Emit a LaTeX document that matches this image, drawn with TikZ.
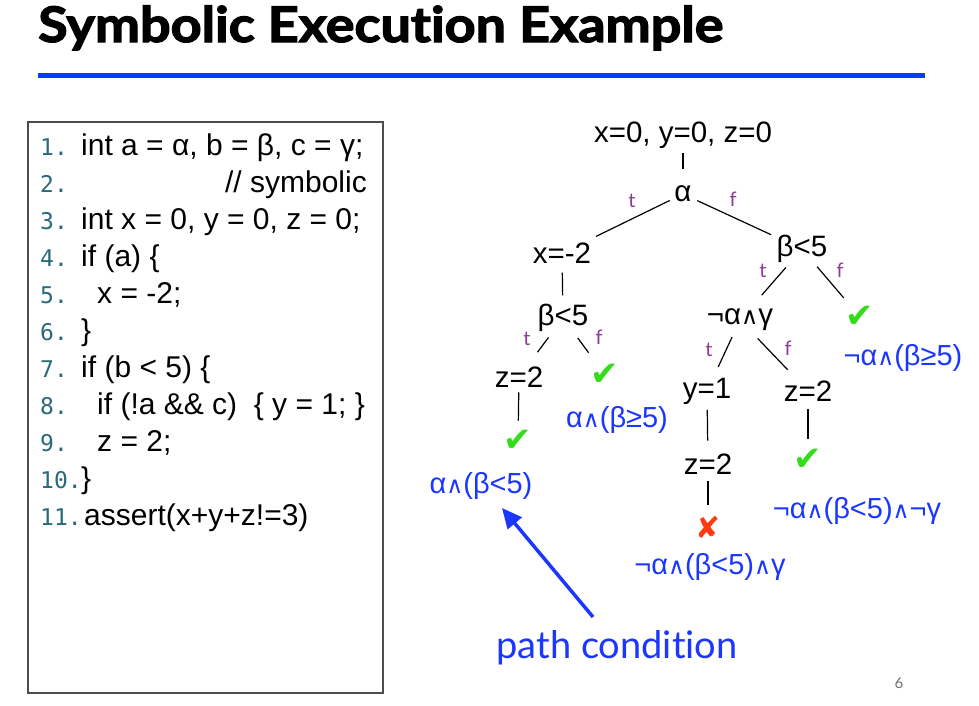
\documentclass[tikz,border=0pt]{standalone}
\usepackage{fontspec}
\setmainfont{Liberation Sans}
\newfontfamily\djv{DejaVu Sans}
\newfontfamily\monofam{DejaVu Sans Mono}
\newfontfamily\latofam[Ligatures=NoCommon]{Lato}
\newfontfamily\titlefam[Ligatures=NoCommon,FakeBold=2.5]{Lato Bold}
\usetikzlibrary{arrows.meta,calc}
\definecolor{rulblue}{HTML}{0A3CFF}
\definecolor{lblblue}{HTML}{1A36FF}
\definecolor{tfpurple}{HTML}{8E3A98}
\definecolor{numteal}{HTML}{2A6A78}
\definecolor{okgreen}{HTML}{33DD1A}
\definecolor{badred}{HTML}{FF3A10}
\newcommand\myand{{\djv\scalebox{0.8}{∧}}}
\newcommand\seg[4]{\draw[edge] ($(#1)!#3!(#2)$) -- ($(#1)!#4!(#2)$);}
\begin{document}
\begin{tikzpicture}[x=1pt,y=-1pt,
  tn/.style={inner sep=0pt,font=\fontsize{29.5}{29.5}\selectfont},
  bl/.style={inner sep=0pt,text=lblblue,font=\fontsize{29}{29}\selectfont},
  tf/.style={inner sep=0pt,text=tfpurple,font=\latofam\fontsize{20}{20}\selectfont},
  ok/.style={inner sep=0pt,text=okgreen,font=\djv\fontsize{34}{34}\selectfont},
  bad/.style={inner sep=0pt,text=badred,font=\djv\fontsize{30}{30}\selectfont},
  edge/.style={draw=black,line width=1.2pt},
  num/.style={anchor=base west,inner sep=0pt,text=numteal,font=\monofam\fontsize{23}{23}\selectfont},
  code/.style={anchor=base west,inner sep=0pt,font=\fontsize{30}{30}\selectfont}]
\useasboundingbox (0,0) rectangle (979,705);
\fill[white] (0,0) rectangle (979,705);
% title
\node[anchor=base west,inner sep=0pt,font=\titlefam\fontsize{49}{49}\selectfont] (title) at (38,42) {\scalebox{1.1}[1]{Symbolic Execution Example}};
\fill[rulblue] (38,73) rectangle (925,78);
% code box
\draw[draw=black!70,line width=1.2pt] (28,122) rectangle (383,693);
\foreach \n/\y in {1/155,2/192,3/229,4/266,5/303,6/340,7/377,8/414,9/451,10/488,11/525}
  \node[num] (n\n) at (40,\y) {\n.};
\node[code] (c1) at (81,155) {int a = α, b = β, c = γ;};
\node[code,anchor=base east] (c2) at (367,192) {// symbolic};
\node[code] (c3) at (81,229) {int x = 0, y = 0, z = 0;};
\node[code] (c4) at (81,266) {if (a) \{};
\node[code] (c5) at (97,303) {x = -2;};
\node[code] (c6) at (81,340) {\}};
\node[code] (c7) at (81,377) {if (b < 5) \{};
\node[code] (c8) at (97,414) {if (!a \&\& c)\ \ \{ y = 1; \}};
\node[code] (c9) at (97,451) {z = 2;};
\node[code] (c10) at (81,488) {\}};
\node[code] (c11) at (84,525) {assert(x+y+z!=3)};
% tree nodes
\node[tn] (root) at (683,135) {x=0, y=0, z=0};
\node[tn] (alpha) at (683,194) {α};
\node[tn] (xm2) at (562,253) {x=-2};
\node[tn] (bL) at (563,318) {β<5};
\node[tn] (bR) at (802,249) {β<5};
\node[tn] (nay) at (740,320) {¬α\myand γ};
\node[tn] (z2a) at (519,377) {z=2};
\node[ok] (ck1) at (605,375) {✔};
\node[bl] (l1) at (617,420) {α\myand(β≥5)};
\node[ok] (ck2) at (518,441) {✔};
\node[bl] (l2) at (481,486) {α\myand(β<5)};
\node[ok] (ck3) at (860,317) {✔};
\node[bl] (l3) at (903,358) {¬α\myand(β≥5)};
\node[tn] (y1) at (707,391) {y=1};
\node[tn] (z2b) at (808,391) {z=2};
\node[tn] (z2c) at (708,464) {z=2};
\node[ok] (ck4) at (808,460) {✔};
\node[bl] (l4) at (857,511) {¬α\myand(β<5)\myand¬γ};
\node[bad] (x1) at (708,527) {✘};
\node[bl] (l5) at (710,567) {¬α\myand(β<5)\myand γ};
% t/f labels
\node[tf] (t1) at (632,201) {t};
\node[tf] (f1) at (733,199) {f};
\node[tf] (t2) at (527,339) {t};
\node[tf] (f2) at (599,337) {f};
\node[tf] (t3) at (763,271) {t};
\node[tf] (f3) at (840,270) {f};
\node[tf] (t4) at (709,350) {t};
\node[tf] (f4) at (788,348) {f};
% edges
\seg{root}{alpha}{0.31}{0.57}
\seg{alpha}{xm2}{0.11}{0.72}
\seg{alpha}{bR}{0.12}{0.74}
\seg{xm2}{bL}{0.30}{0.65}
\seg{bL}{z2a}{0.33}{0.58}
\seg{bL}{ck1}{0.35}{0.61}
\seg{z2a}{ck2}{0.24}{0.68}
\seg{bR}{nay}{0.26}{0.65}
\seg{bR}{ck3}{0.26}{0.72}
\seg{nay}{y1}{0.24}{0.66}
\seg{nay}{z2b}{0.26}{0.70}
\seg{y1}{z2c}{0.26}{0.68}
\seg{z2c}{x1}{0.27}{0.65}
\seg{z2b}{ck4}{0.26}{0.69}
% path condition
\node[inner sep=0pt,text=lblblue,font=\latofam\fontsize{38}{38}\selectfont] (pc) at (617,648) {path condition};
\coordinate (tail) at (593,617);
\coordinate (tip) at (502,508);
\draw[draw=lblblue,line width=3.5pt,-{Triangle[length=20pt,width=18pt]}] (tail) -- (tip);
\node[inner sep=0pt,text=black!55,font=\latofam\fontsize{15}{15}\selectfont] (pg) at (899,683) {6};
\end{tikzpicture}
\end{document}
